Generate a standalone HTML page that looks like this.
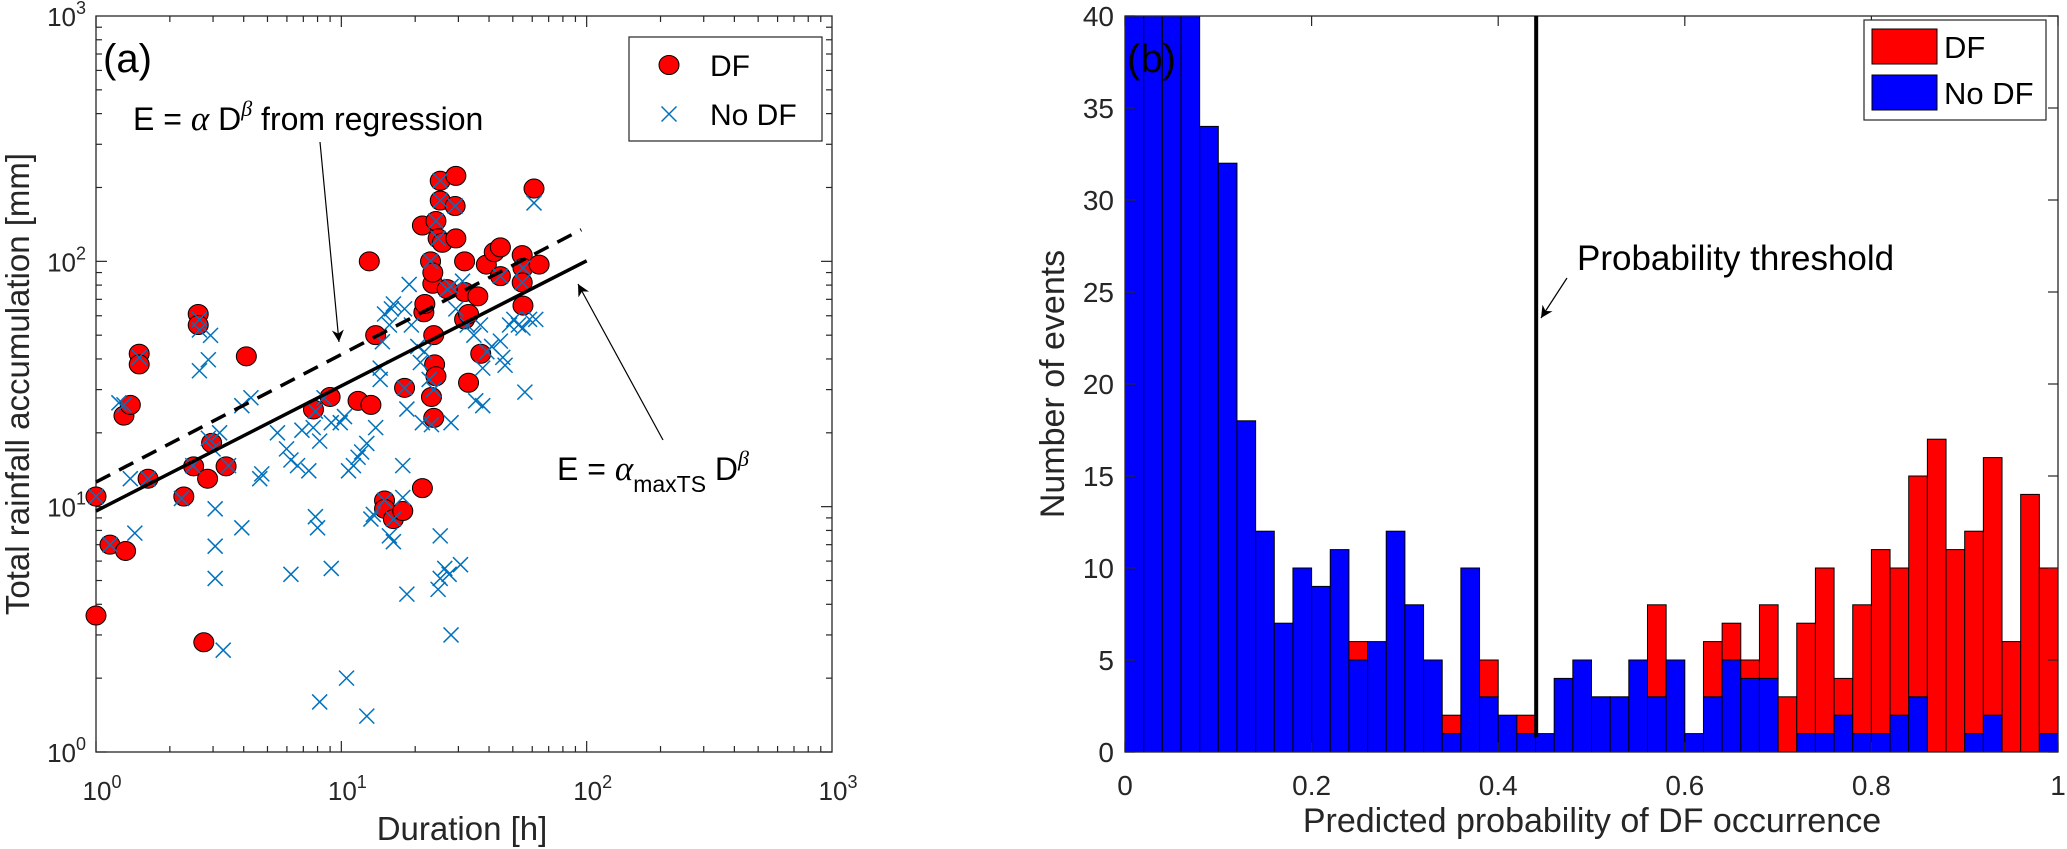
<!DOCTYPE html>
<html><head><meta charset="utf-8"><style>
html,body{margin:0;padding:0;background:#fff}
svg{display:block;font-family:"Liberation Sans",Arial,sans-serif}
</style></head><body>
<svg id="fig" width="2067" height="849" viewBox="0 0 2067 849" xmlns="http://www.w3.org/2000/svg">
<defs>
<marker id="ah" markerWidth="12" markerHeight="12" refX="10" refY="5" orient="auto" markerUnits="userSpaceOnUse" viewBox="0 0 10 10"><path d="M0,0 L10,5 L0,10 L3,5 z" fill="#000"/></marker>
</defs>
<g id="left"></g>
<g id="right"></g>
</svg>
<script>
// ---------- Panel (a) data ----------
const dfDuration = [1,1,1.14,1.32,1.30,1.38,1.50,1.50,1.63,2.28,2.50,2.61,2.61,2.75,2.85,2.96,3.39,4.1,7.7,9.0,11.7,13.2,13.0,13.8,15,15,16.3,17.8,18.1,21.4,21.4,21.7,21.9,23.1,23.6,23.6,24,24.3,23.3,23.8,23.8,24.3,25.3,25.3,24.8,25.8,29.3,29.1,29.3,31.8,31.8,27,33,31.8,33,36,37,39,42,44.5,44.5,54.6,55,54.6,55,61,64];
const dfRain = [11,3.6,7.0,6.6,23.5,26,42,38,13,11,14.6,61,55,2.8,13,18.2,14.6,41,24.9,28,27,26,100,50,10.6,9.8,8.9,9.6,30.5,11.9,140,62,67,100,81,90,38,34,28,23,50,146,213,177,124,119,223,168,124,100,75,77,32,58,61,72,42,97,109,114,87,106,94,82,66,198,97];
const noDuration = [1.0,1.14,1.30,1.24,1.38,1.44,1.50,1.63,2.23,2.48,2.64,2.64,2.64,2.87,2.93,2.87,3.0,3.06,3.06,3.06,3.19,3.30,3.47,3.93,3.93,4.28,4.65,4.74,5.49,5.98,6.23,6.23,6.63,6.91,7.37,7.68,7.84,8.0,8.16,9.1,9.1,9.9,10.3,10.5,10.7,11.2,11.7,12.1,12.7,13.2,13.8,13.5,14.4,14.4,14.7,15.0,15.7,16.0,16.3,18.1,18.5,17.8,15.7,16.3,17.8,18.5,18.9,19.3,20.5,21,21.4,21.8,22.8,23.3,23.8,24.8,25.3,25.3,26.4,27.5,28,28,28,29.3,30.6,31.2,32.6,34.7,35.3,36.9,37.7,37.7,39.2,41,44.5,45.5,46.5,48.5,50.5,52.7,55,56,58.5,61,62,8.16,12.7,25.3,25.3,24.8,24.3,23.1,29.1,27,55,54.6,44.5,8.5,7.84,15,16.3,18.1];
const noRain = [11,7.0,26,26.5,13,7.8,40.6,13,10.8,14.7,58,52.5,35.8,39.7,49.9,19.0,17.2,9.8,6.9,5.1,20,2.6,14.7,8.2,25.8,27.8,13,13.6,20,17.2,15.5,5.3,14.7,20.5,14.0,21,9.1,8.2,18.5,5.6,22,22,23.3,2.0,14.0,14.7,15.9,16.7,18.1,8.9,21,9.3,33,36.7,47,61,55,64,67,64,25,14.7,7.6,7.2,10.9,4.4,80.5,55,45,38.7,22,42.8,33,21.6,30,4.6,5.1,7.6,5.6,5.3,3.0,22,79,64,5.8,83,55,50,27,55,36.7,25.8,42.8,45,47.3,40.6,37.7,55,58,55,53.5,29.3,58,173,58,1.6,1.4,213,177,124,146,100,168,77,94,82,87,27.8,24.5,10.6,8.9,30.5];
const fitAlpha = [9.6, 12.6];      // solid (maxTS), dashed (regression)
const fitBeta = [0.51, 0.52];
const fitDmax = [100, 95];
const logTicks = [0,1,2,3];

// ---------- Panel (b) data ----------
const binCenters = [];
for (let i=0;i<50;i++) binCenters.push(0.01+0.02*i);
const noDfCounts = [60,56,50,46,34,32,18,12,7,10,9,11,5,6,12,8,5,1,10,3,2,1,1,4,5,3,3,5,3,5,1,3,5,4,4,0,1,1,2,1,1,2,3,0,0,1,2,0,0,1];
const dfCounts   = [0,0,0,0,0,0,0,0,0,0,0,0,1,0,0,0,0,1,0,2,0,1,0,0,0,0,0,0,5,0,0,3,2,1,4,3,6,9,2,7,10,8,12,17,11,11,14,6,14,9];
const xTicksB = [0,0.2,0.4,0.6,0.8,1];
const xTickLabelsB = ["0","0.2","0.4","0.6","0.8","1"];
const yTicksB = [0,5,10,15,20,25,30,35,40];
const threshold = 0.4407;

const NS="http://www.w3.org/2000/svg";
function mk(parent, tag, attrs, text){
  const e=document.createElementNS(NS,tag);
  for(const k in attrs) e.setAttribute(k,attrs[k]);
  if(text!==undefined) e.textContent=text;
  parent.appendChild(e); return e;
}

// ===== Panel (a) =====
const L=document.getElementById('left');
const ax={x0:96,x1:832,y0:752,y1:16};
const sx=d=>ax.x0+(Math.log10(d)/3)*(ax.x1-ax.x0);
const sy=e=>ax.y0-(Math.log10(e)/3)*(ax.y0-ax.y1);
let r=mk(L,'rect',{x:ax.x0,y:ax.y1,width:ax.x1-ax.x0,height:ax.y0-ax.y1,fill:'#fff',stroke:'#262626','stroke-width':1.3});


for(let dec=0;dec<3;dec++){
  for(let m=1;m<=9;m++){
    const v=Math.pow(10,dec)*m; const len=(m===1)?11:6;
    let t=mk(L,'line',{x1:sx(v),x2:sx(v),y1:ax.y0,y2:ax.y0-len,stroke:'#262626','stroke-width':1.2});
     
    t=mk(L,'line',{x1:sx(v),x2:sx(v),y1:ax.y1,y2:ax.y1+len,stroke:'#262626','stroke-width':1.2});
     
    t=mk(L,'line',{x1:ax.x0,x2:ax.x0+len,y1:sy(v),y2:sy(v),stroke:'#262626','stroke-width':1.2});
     
    t=mk(L,'line',{x1:ax.x1,x2:ax.x1-len,y1:sy(v),y2:sy(v),stroke:'#262626','stroke-width':1.2});
     
  }
}
logTicks.forEach(p=>{
  let t=mk(L,'text',{x:sx(Math.pow(10,p))+6,y:800,'font-size':26,fill:'#262626','text-anchor':'middle'});
   
  mk(t,'tspan',{},'10'); mk(t,'tspan',{dy:-12,'font-size':18},String(p));
  t=mk(L,'text',{x:86,y:sy(Math.pow(10,p))+10,'font-size':26,fill:'#262626','text-anchor':'end'});
   
  mk(t,'tspan',{},'10'); mk(t,'tspan',{dy:-12,'font-size':18},String(p));
});
dfDuration.forEach((d,i)=>{
  const c=mk(L,'ellipse',{cx:sx(d),cy:sy(dfRain[i]),rx:10,ry:9.5,fill:'#ff0000',stroke:'#000','stroke-width':1});
   
});
noDuration.forEach((d,i)=>{
  const x=sx(d),y=sy(noRain[i]),h=7.5;
  const p=mk(L,'path',{d:`M${x-h},${y-h}L${x+h},${y+h}M${x-h},${y+h}L${x+h},${y-h}`,stroke:'#0072BD','stroke-width':1.5,fill:'none'});
   
});
fitAlpha.forEach((a,k)=>{
  const b=fitBeta[k],dm=fitDmax[k];
  const ln=mk(L,'line',{x1:sx(1),y1:sy(a),x2:sx(dm),y2:sy(a*Math.pow(dm,b)),stroke:'#000','stroke-width':3.5,'stroke-dasharray':k===1?'16,10':'none'});
   
});
let t=mk(L,'text',{x:103,y:72,'font-size':40,fill:'#000'},'(a)');
 
t=mk(L,'text',{x:133,y:130,'font-size':32,fill:'#000'});
 
mk(t,'tspan',{},'E = '); mk(t,'tspan',{'font-family':'Liberation Serif','font-style':'italic','font-size':35},'α'); mk(t,'tspan',{},' D');
mk(t,'tspan',{dy:-14,'font-size':22,'font-family':'Liberation Serif','font-style':'italic'},'β'); mk(t,'tspan',{dy:14},' from regression');
let a=mk(L,'line',{x1:320,y1:142,x2:339,y2:342,stroke:'#000','stroke-width':1.2,'marker-end':'url(#ah)'});
 
t=mk(L,'text',{x:557,y:480,'font-size':32,fill:'#000'});
 
mk(t,'tspan',{},'E = '); mk(t,'tspan',{'font-family':'Liberation Serif','font-style':'italic','font-size':35},'α');
mk(t,'tspan',{dy:12,'font-size':23},'maxTS'); mk(t,'tspan',{dy:-12},' D');
mk(t,'tspan',{dy:-14,'font-size':22,'font-family':'Liberation Serif','font-style':'italic'},'β');
a=mk(L,'line',{x1:663,y1:440,x2:578,y2:284,stroke:'#000','stroke-width':1.2,'marker-end':'url(#ah)'});
 
let lg=mk(L,'g',{});  
mk(lg,'rect',{x:629,y:37,width:193,height:104,fill:'#fff',stroke:'#262626','stroke-width':1.2});
mk(lg,'ellipse',{cx:669,cy:65,rx:10,ry:9.5,fill:'#ff0000',stroke:'#000','stroke-width':1});
mk(lg,'path',{d:'M661.5,106.5L676.5,121.5M661.5,121.5L676.5,106.5',stroke:'#0072BD','stroke-width':1.5});
mk(lg,'text',{x:710,y:76,'font-size':30,fill:'#000'},'DF');
mk(lg,'text',{x:710,y:125,'font-size':30,fill:'#000'},'No DF');
t=mk(L,'text',{x:462,y:840,'font-size':33,fill:'#262626','text-anchor':'middle'},'Duration [h]');
 
t=mk(L,'text',{x:0,y:0,'font-size':33,fill:'#262626','text-anchor':'middle',transform:'translate(29,384) rotate(-90)'},'Total rainfall accumulation [mm]');
 

// ===== Panel (b) =====
const R=document.getElementById('right');
const bx={x0:1125,x1:2058,y0:752,y1:16};
const bX=v=>bx.x0+v*(bx.x1-bx.x0);
const bY=v=>bx.y0-(v/40)*(bx.y0-bx.y1);
r=mk(R,'rect',{x:bx.x0,y:bx.y1,width:bx.x1-bx.x0,height:bx.y0-bx.y1,fill:'#fff',stroke:'none'});
 
const clip=mk(document.querySelector('defs'),'clipPath',{id:'bclip'});
mk(clip,'rect',{x:bx.x0,y:bx.y1,width:bx.x1-bx.x0,height:bx.y0-bx.y1});
const bars=mk(R,'g',{'clip-path':'url(#bclip)'});
 
binCenters.forEach((c,i)=>{
  const x0=bX(c-0.01),w=bX(c+0.01)-x0;
  const nb=noDfCounts[i],nd=dfCounts[i];
  if(nb>0){
    const b=mk(bars,'rect',{x:x0,y:bY(nb),width:w,height:bY(0)-bY(nb),fill:'#0000ff',stroke:'#000','stroke-width':1});
     
  }
  if(nd>0){
    const b=mk(bars,'rect',{x:x0,y:bY(nb+nd),width:w,height:bY(nb)-bY(nb+nd),fill:'#ff0000',stroke:'#000','stroke-width':1});
     
  }
});
r=mk(R,'rect',{x:bx.x0,y:bx.y1,width:bx.x1-bx.x0,height:bx.y0-bx.y1,fill:'none',stroke:'#262626','stroke-width':1.3});
 
xTicksB.forEach((v,i)=>{
  let tk=mk(R,'line',{x1:bX(v),x2:bX(v),y1:bx.y0,y2:bx.y0-10,stroke:'#262626','stroke-width':1.2});
   
  tk=mk(R,'line',{x1:bX(v),x2:bX(v),y1:bx.y1,y2:bx.y1+10,stroke:'#262626','stroke-width':1.2});
   
  const tl=mk(R,'text',{x:bX(v),y:795,'font-size':28,fill:'#262626','text-anchor':'middle'},xTickLabelsB[i]);
   
});
yTicksB.forEach(v=>{
  let tk=mk(R,'line',{x1:bx.x0,x2:bx.x0+10,y1:bY(v),y2:bY(v),stroke:'#262626','stroke-width':1.2});
   
  tk=mk(R,'line',{x1:bx.x1,x2:bx.x1-10,y1:bY(v),y2:bY(v),stroke:'#262626','stroke-width':1.2});
   
  const tl=mk(R,'text',{x:1114,y:bY(v)+10,'font-size':28,fill:'#262626','text-anchor':'end'},String(v));
   
});
let th=mk(R,'line',{x1:bX(threshold),x2:bX(threshold),y1:bx.y1,y2:bY(0.8),stroke:'#000','stroke-width':4});
 
t=mk(R,'text',{x:1577,y:270,'font-size':35,fill:'#000'},'Probability threshold');
 
a=mk(R,'line',{x1:1567,y1:278,x2:1541,y2:318,stroke:'#000','stroke-width':1.2,'marker-end':'url(#ah)'});
 
t=mk(R,'text',{x:1127,y:72,'font-size':40,fill:'#000'},'(b)');
 
lg=mk(R,'g',{});  
mk(lg,'rect',{x:1864,y:20,width:182,height:100,fill:'#fff',stroke:'#262626','stroke-width':1.2});
mk(lg,'rect',{x:1872,y:29,width:65,height:35,fill:'#ff0000',stroke:'#000','stroke-width':1});
mk(lg,'rect',{x:1872,y:75,width:65,height:35,fill:'#0000ff',stroke:'#000','stroke-width':1});
mk(lg,'text',{x:1944,y:58,'font-size':31,fill:'#000'},'DF');
mk(lg,'text',{x:1944,y:104,'font-size':31,fill:'#000'},'No DF');
t=mk(R,'text',{x:1592,y:832,'font-size':34,fill:'#262626','text-anchor':'middle'},'Predicted probability of DF occurrence');
 
t=mk(R,'text',{x:0,y:0,'font-size':34,fill:'#262626','text-anchor':'middle',transform:'translate(1064,384) rotate(-90)'},'Number of events');
 
</script>
</body></html>
